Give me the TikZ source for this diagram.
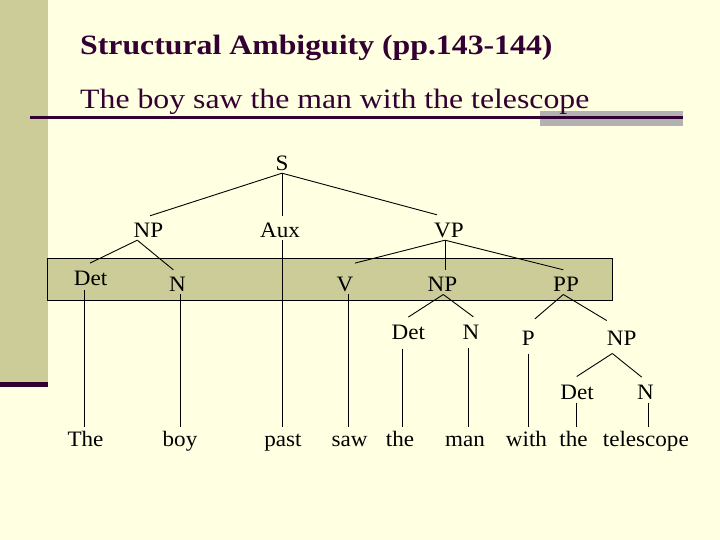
\documentclass[tikz,border=0pt]{standalone}
\usepackage{fontspec}
\setmainfont{Liberation Serif}[FakeStretch=1.05]
\newfontfamily\titlefont{Liberation Serif}[FakeStretch=1.135]
\usetikzlibrary{calc}
\definecolor{bgc}{HTML}{FFFFE1}
\definecolor{olivec}{HTML}{CCCC99}
\definecolor{maroonc}{HTML}{330033}
\definecolor{grayc}{HTML}{B2B2B2}
\begin{document}
\begin{tikzpicture}[x=1pt,y=-1pt,
  lab/.style={font=\fontsize{22}{22}\selectfont, inner sep=0pt, text height=15pt, text depth=0pt, anchor=base},
  ttl/.style={anchor=base west, inner sep=0pt, text=maroonc},
  edge/.style={draw=black, line width=0.9pt}]
% background and frame
\fill[bgc] (0,0) rectangle (720,540);
\useasboundingbox (0,0) rectangle (720,540);
\fill[olivec] (0,0) rectangle (48,381.7);
\fill[maroonc] (0,381.7) rectangle (48,386.7);
\fill[grayc] (540,110.7) rectangle (683,126);
\draw[maroonc, line width=2.7pt] (30,117.3) -- (683,117.3);
% titles
\node[ttl, font=\titlefont\bfseries\fontsize{28}{28}\selectfont] (title) at (80,55) {Structural Ambiguity (pp.143-144)};
\node[ttl, font=\titlefont\fontsize{28}{28}\selectfont] (sub) at (80,108.3) {The boy saw the man with the telescope};
% band
\draw[fill=olivec, line width=0.8pt] (47.5,258.3) rectangle (612.5,300);
% tree labels
\node[lab] (S) at (282,171) {S};
\node[lab] (NP1) at (148.5,237) {NP};
\node[lab] (Aux) at (280,237) {Aux};
\node[lab] (VP) at (449,237) {VP};
\node[lab] (Det1) at (90.5,285.5) {Det};
\node[lab] (N1) at (177.5,291.5) {N};
\node[lab] (V) at (345,291.5) {V};
\node[lab] (NP2) at (442.5,291.5) {NP};
\node[lab] (PP) at (566,291.5) {PP};
\node[lab] (Det3) at (408.3,339) {Det};
\node[lab] (N3) at (471,339) {N};
\node[lab] (P) at (528.3,345) {P};
\node[lab] (NP3) at (621.7,345) {NP};
\node[lab] (Det4) at (577,399) {Det};
\node[lab] (N4) at (645.5,399) {N};
% words
\node[lab] (w1) at (85.5,446) {The};
\node[lab] (w2) at (180,446) {boy};
\node[lab] (w3) at (283,446) {past};
\node[lab] (w4) at (349.5,446) {saw};
\node[lab] (w5) at (400,446) {the};
\node[lab] (w6) at (465,446) {man};
\node[lab] (w7) at (526.5,446) {with};
\node[lab] (w8) at (573.5,446) {the};
\node[lab] (w9) at (645.8,446) {telescope};
% branches
\draw[edge] ($(S.south)+(0,2)$) -- ($(NP1.north)+(1.5,-6)$);
\draw[edge] ($(S.south)+(0,2)$) -- ($(Aux.north)+(2,-5.3)$);
\draw[edge] ($(S.south)+(0,2)$) -- ($(VP.north)+(-12,-7)$);
\draw[edge] ($(NP1.south)+(-11.2,3)$) -- ($(Det1.north)+(-0.5,-7.2)$);
\draw[edge] ($(NP1.south)+(-11.2,3)$) -- ($(N1.north)+(-4.2,-6.5)$);
\draw[edge] ($(VP.south)+(-4,3)$) -- ($(V.north)+(10,-13.2)$);
\draw[edge] ($(VP.south)+(-4,3)$) -- ($(NP2.north)+(2.5,-6.5)$);
\draw[edge] ($(VP.south)+(-4,3)$) -- ($(PP.north)+(-2.7,-6.5)$);
\draw[edge] ($(NP2.south)+(0.8,2.8)$) -- ($(Det3.north)+(0,-6.7)$);
\draw[edge] ($(NP2.south)+(0.8,2.8)$) -- ($(N3.north)+(2.3,-7)$);
\draw[edge] ($(PP.south)+(-2.7,2.8)$) -- ($(P.north)+(6.7,-11)$);
\draw[edge] ($(PP.south)+(-2.7,2.8)$) -- ($(NP3.north)+(-15,-9.3)$);
\draw[edge] ($(NP3.south)+(-9.4,8.3)$) -- ($(Det4.north)+(-0.3,-7.3)$);
\draw[edge] ($(NP3.south)+(-9.4,8.3)$) -- ($(N4.north)+(-3.8,-6.7)$);
% verticals to words
\draw[edge] ($(Det1.south -| w1.north)+(-1.2,4.5)$) -- ($(w1.north)+(-1.2,-4.3)$);
\draw[edge] ($(N1.south -| w2.north)+(0,2.5)$) -- ($(w2.north)+(0,-4.3)$);
\draw[edge] ($(Aux.south -| w3.north)+(-1,3)$) -- ($(w3.north)+(-1,-4.3)$);
\draw[edge] ($(V.south -| w4.north)+(-1.2,2.5)$) -- ($(w4.north)+(-1.2,-4.3)$);
\draw[edge] ($(Det3.south -| w5.north)+(2.3,9.3)$) -- ($(w5.north)+(2.3,-4.3)$);
\draw[edge] ($(N3.south -| w6.north)+(3.3,9)$) -- ($(w6.north)+(3.3,-4.3)$);
\draw[edge] ($(P.south -| w7.north)+(2.2,8.3)$) -- ($(w7.north)+(2.2,-4.3)$);
\draw[edge] ($(Det4.south -| w8.north)+(3.2,3.7)$) -- ($(w8.north)+(3.2,-4.3)$);
\draw[edge] ($(N4.south -| w9.north)+(2.5,3.7)$) -- ($(w9.north)+(2.5,-4.3)$);
\end{tikzpicture}
\end{document}
